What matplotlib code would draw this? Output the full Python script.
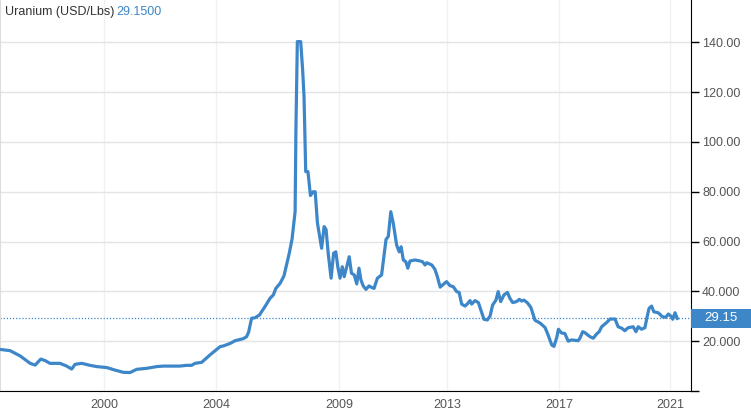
import numpy as np
import matplotlib.pyplot as plt
from matplotlib.patches import Rectangle
from matplotlib.transforms import blended_transform_factory

plt.rcParams['font.family'] = ['Liberation Sans', 'DejaVu Sans']

# decimal years and price (USD/Lbs)
years = [1996.27, 1996.63, 1996.99, 1997.35, 1997.53, 1997.73, 1997.89, 1998.06, 1998.42, 1998.66,
         1998.84, 1998.96, 1999.20, 1999.50, 1999.74, 2000.10, 2000.39, 2000.69, 2000.93, 2001.17,
         2001.53, 2001.89, 2002.13, 2002.72, 2002.96, 2003.14, 2003.26, 2003.50, 2003.80, 2004.16,
         2004.28, 2004.52, 2004.70, 2004.99, 2005.11, 2005.18, 2005.29, 2005.41, 2005.57, 2005.77,
         2005.95, 2006.07, 2006.16, 2006.31, 2006.45, 2006.55, 2006.64, 2006.74, 2006.85, 2006.88,
         2006.93, 2007.05, 2007.12, 2007.17, 2007.23, 2007.31, 2007.40, 2007.50, 2007.57, 2007.65,
         2007.80, 2007.89, 2007.96, 2008.04, 2008.14, 2008.23, 2008.31, 2008.38, 2008.46, 2008.54,
         2008.61, 2008.70, 2008.79, 2008.87, 2008.97, 2009.06, 2009.14, 2009.21, 2009.29, 2009.39,
         2009.50, 2009.59, 2009.68, 2009.80, 2009.95, 2010.11, 2010.19, 2010.28, 2010.37, 2010.49,
         2010.58, 2010.65, 2010.73, 2010.82, 2010.89, 2010.97, 2011.15, 2011.33, 2011.42, 2011.51,
         2011.57, 2011.75, 2011.86, 2011.95, 2012.05, 2012.17, 2012.28, 2012.40, 2012.52, 2012.64,
         2012.73, 2012.82, 2012.94, 2013.02, 2013.12, 2013.18, 2013.30, 2013.42, 2013.51, 2013.62,
         2013.74, 2013.84, 2013.93, 2014.05, 2014.13, 2014.22, 2014.34, 2014.46, 2014.55, 2014.65,
         2014.79, 2014.89, 2014.97, 2015.05, 2015.17, 2015.30, 2015.39, 2015.45, 2015.63, 2015.81,
         2015.92, 2016.05, 2016.13, 2016.23, 2016.29, 2016.40, 2016.52, 2016.64, 2016.76, 2017.00,
         2017.06, 2017.16, 2017.24, 2017.42, 2017.54, 2017.66, 2017.75, 2017.84, 2018.02, 2018.14,
         2018.32, 2018.43, 2018.56, 2018.67, 2018.79, 2018.97, 2019.07, 2019.15, 2019.27, 2019.39,
         2019.47, 2019.54, 2019.63, 2019.71, 2019.87, 2020.02, 2020.14, 2020.23, 2020.32, 2020.39,
         2020.47, 2020.55]
price = [16.7, 16.2, 14.1, 11.1, 10.4, 12.8, 12.2, 11.1, 11.1, 10.0,
         8.8, 10.7, 11.1, 10.3, 9.8, 9.4, 8.4, 7.5, 7.4, 8.7,
         9.1, 9.8, 10.0, 10.0, 10.3, 10.3, 11.1, 11.5, 14.5, 17.8,
         18.1, 19.1, 20.2, 21.0, 21.8, 23.5, 29.2, 29.4, 30.5, 33.9,
         37.2, 38.6, 41.2, 43.2, 46.2, 51.0, 55.3, 61.0, 72.0, 106.0,
         140.3, 140.3, 128.9, 118.2, 88.1, 88.1, 78.5, 80.0, 80.0, 67.5,
         57.3, 66.0, 64.8, 54.9, 45.3, 55.3, 55.9, 49.9, 45.3, 49.9,
         45.9, 49.9, 53.9, 47.3, 46.6, 43.0, 49.3, 44.6, 42.2, 40.8,
         42.2, 41.6, 41.2, 45.3, 46.6, 60.9, 62.0, 72.0, 67.3, 58.6,
         55.9, 57.9, 52.6, 51.9, 49.3, 52.2, 52.6, 52.2, 51.9, 50.6,
         51.5, 50.6, 48.9, 45.9, 41.7, 42.9, 43.9, 42.3, 41.9, 39.9,
         39.6, 34.9, 34.1, 34.9, 36.3, 34.9, 36.3, 35.5, 32.5, 28.8,
         28.5, 30.1, 34.5, 36.5, 39.9, 35.9, 38.6, 39.6, 37.2, 35.5,
         35.9, 36.8, 36.1, 36.5, 35.5, 33.6, 30.5, 28.4, 27.3, 25.5,
         22.5, 18.5, 17.9, 21.5, 24.8, 23.3, 23.1, 20.0, 20.5, 20.2,
         21.2, 23.8, 23.4, 21.8, 21.2, 22.9, 23.8, 25.8, 27.5, 28.9,
         28.9, 25.8, 25.2, 24.2, 25.4, 25.8, 23.8, 25.8, 24.8, 25.4,
         29.8, 33.2, 34.1, 31.8, 31.4, 29.8, 29.6, 30.9, 30.1, 28.8,
         31.4, 29.15]

last = 29.15
tick_pos = [2000.0, 2004.01, 2008.42, 2012.29, 2016.31, 2020.29]
tick_lbl = ['2000', '2004', '2009', '2013', '2017', '2021']
ytick_vals = [0, 20, 40, 60, 80, 100, 120, 140]
ytick_lbl = ['', '20.000', '40.000', '60.000', '80.000', '100.00', '120.00', '140.00']

blue = '#3d87c9'

fig = plt.figure(figsize=(7.51, 4.12), dpi=100)
ax = fig.add_axes([0.0, 0.051, 0.920, 0.949])

ax.plot(years, price, color=blue, lw=2.3, solid_joinstyle='round', zorder=3)
ax.axhline(last, color=blue, lw=0.9, ls=(0, (1, 1.5)), zorder=2)

ax.set_xlim(1996.27, 2021.04)
ax.set_ylim(0, 157)

ax.set_xticks(tick_pos)
ax.set_xticklabels(tick_lbl)
ax.set_yticks(ytick_vals)
ax.set_yticklabels(ytick_lbl)
ax.yaxis.tick_right()

ax.grid(axis='y', color='#e4e4e4', lw=1)
ax.grid(axis='x', color='#eef1f5', lw=1)
ax.set_axisbelow(True)

ax.tick_params(axis='x', length=0, pad=6, labelsize=9, labelcolor='#555555')
ax.tick_params(axis='y', length=6, width=1, color='black', pad=2, labelsize=9,
               labelcolor='#555555')

ax.spines['top'].set_visible(False)
ax.spines['left'].set_color('#dddddd')
ax.spines['right'].set_color('black')
ax.spines['bottom'].set_color('black')

# last-value badge on the right axis
trans = blended_transform_factory(ax.transAxes, ax.transData)
badge_w = 60 / 691
ax.add_patch(Rectangle((1.0, last - 3.9), badge_w, 7.8, transform=trans,
                       fc=blue, ec='none', clip_on=False, zorder=4))
ax.text(1.0 + badge_w / 2, last, '%.2f' % last, transform=trans, ha='center',
        va='center', fontsize=9.5, color='white', zorder=5)

fig.text(0.007, 0.972, 'Uranium (USD/Lbs)', fontsize=9, color='#333333', va='center')
fig.text(0.155, 0.972, '29.1500', fontsize=9, color=blue, va='center')

fig.savefig('out.png', dpi=100)
